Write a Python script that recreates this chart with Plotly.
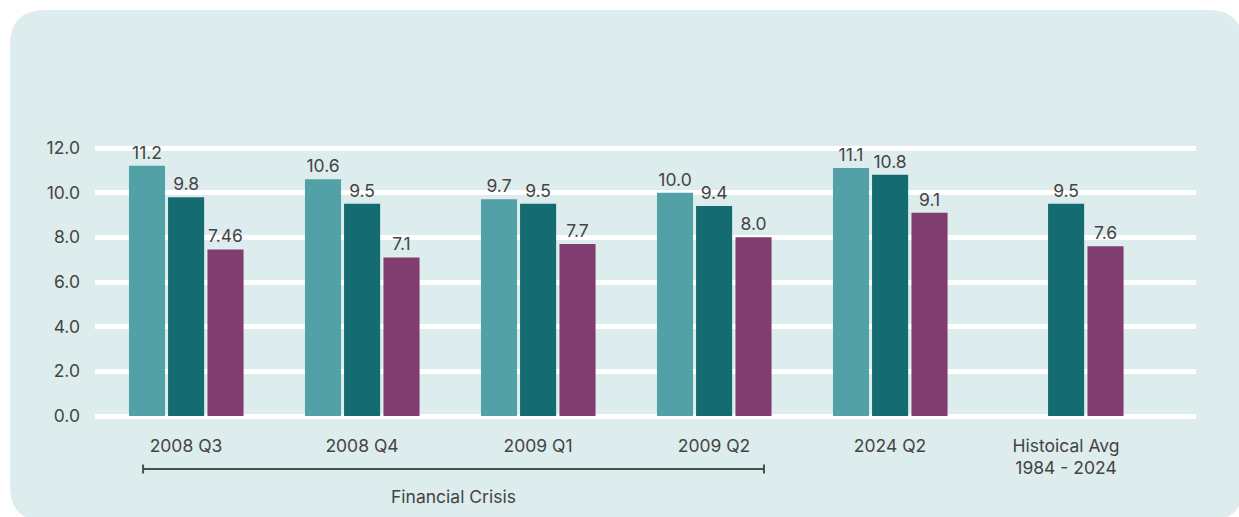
import plotly.graph_objects as go

# Categories and series values
categories = ["2008 Q3", "2008 Q4", "2009 Q1", "2009 Q2", "2024 Q2", "Histoical Avg<br>1984 - 2024"]
series_a = [11.2, 10.6, 9.7, 10.0, 11.1, None]
series_b = [9.8, 9.5, 9.5, 9.4, 10.8, 9.5]
series_c = [7.46, 7.1, 7.7, 8.0, 9.1, 7.6]
y_ticks = [0, 2, 4, 6, 8, 10, 12]
crisis_label = "Financial Crisis"
crisis_span = (0, 3)  # first and last category index of the bracket

W, H = 1239, 517
M_L, M_R, M_T, M_B = 95, 43, 100, 87
PW, PH = W - M_L - M_R, H - M_T - M_B

COL_A = "#52a1a7"
COL_B = "#156c70"
COL_C = "#7f3e6f"
BG = "#ddecec"
TXT = "#444444"
FONT = "Inter"
FS = 17.5


def label(v):
    if v is None:
        return ""
    return f"{v:.2f}" if round(v, 1) != v else f"{v:.1f}"


def px_x(px):
    return (px - M_L) / PW


def px_y(py):
    return (H - M_B - py) / PH


x = list(range(len(categories)))
bar_w = 0.205
offsets = [-0.324, -0.102, 0.122]

fig = go.Figure()
for vals, col, off in zip([series_a, series_b, series_c], [COL_A, COL_B, COL_C], offsets):
    fig.add_trace(go.Bar(
        x=x, y=vals, width=bar_w, offset=off,
        marker=dict(color=col, line=dict(width=0)),
        text=[label(v) for v in vals], textposition="outside",
        constraintext="none", cliponaxis=False,
        textfont=dict(family=FONT, size=FS, color=TXT),
        showlegend=False, hoverinfo="skip",
    ))

# rounded card behind the chart
x0, x1, y0, y1, r = px_x(10), px_x(1243), px_y(10), px_y(521), 35
rx, ry = r / PW, r / PH
card = (f"M {x0+rx},{y0} L {x1-rx},{y0} Q {x1},{y0} {x1},{y0-ry} "
        f"L {x1},{y1+ry} Q {x1},{y1} {x1-rx},{y1} "
        f"L {x0+rx},{y1} Q {x0},{y1} {x0},{y1+ry} "
        f"L {x0},{y0-ry} Q {x0},{y0} {x0+rx},{y0} Z")
shapes = [dict(type="path", path=card, xref="paper", yref="paper",
               fillcolor=BG, line=dict(width=0), layer="below")]

# bracket spanning the crisis quarters
bx0 = crisis_span[0] - 0.244
bx1 = crisis_span[1] + 0.284
by = px_y(469)
cap = 4.5 / PH
line_style = dict(color="#4a4f4f", width=2)
shapes += [
    dict(type="line", xref="x", yref="paper", x0=bx0, x1=bx1, y0=by, y1=by, line=line_style),
    dict(type="line", xref="x", yref="paper", x0=bx0, x1=bx0, y0=by - cap, y1=by + cap, line=line_style),
    dict(type="line", xref="x", yref="paper", x0=bx1, x1=bx1, y0=by - cap, y1=by + cap, line=line_style),
]

fig.update_layout(
    width=W, height=H,
    margin=dict(l=M_L, r=M_R, t=M_T, b=M_B),
    paper_bgcolor="white", plot_bgcolor="rgba(0,0,0,0)",
    font=dict(family=FONT, size=FS, color=TXT),
    shapes=shapes,
    annotations=[dict(text=crisis_label, xref="x", yref="paper",
                      x=(bx0 + bx1) / 2, y=px_y(496), yanchor="middle",
                      showarrow=False,
                      font=dict(family=FONT, size=FS, color=TXT))],
    barmode="overlay",
)
fig.update_xaxes(
    range=[(95 - 186) / 176, (1196 - 186) / 176],
    tickvals=x, ticktext=categories, showgrid=False, zeroline=False,
    showline=False, ticks="", ticklabelstandoff=3,
    tickfont=dict(family=FONT, size=FS, color=TXT),
    fixedrange=True,
)
fig.update_yaxes(
    range=[(416 - 430) / 22.333, (416 - 100) / 22.333],
    tickvals=y_ticks, tickformat=".1f", showgrid=True, gridcolor="white",
    gridwidth=5, zeroline=False, showline=False, ticks="",
    ticklabelstandoff=14, tickfont=dict(family=FONT, size=FS, color=TXT),
    fixedrange=True,
)

fig.write_html("out.html", config={"displayModeBar": False})
